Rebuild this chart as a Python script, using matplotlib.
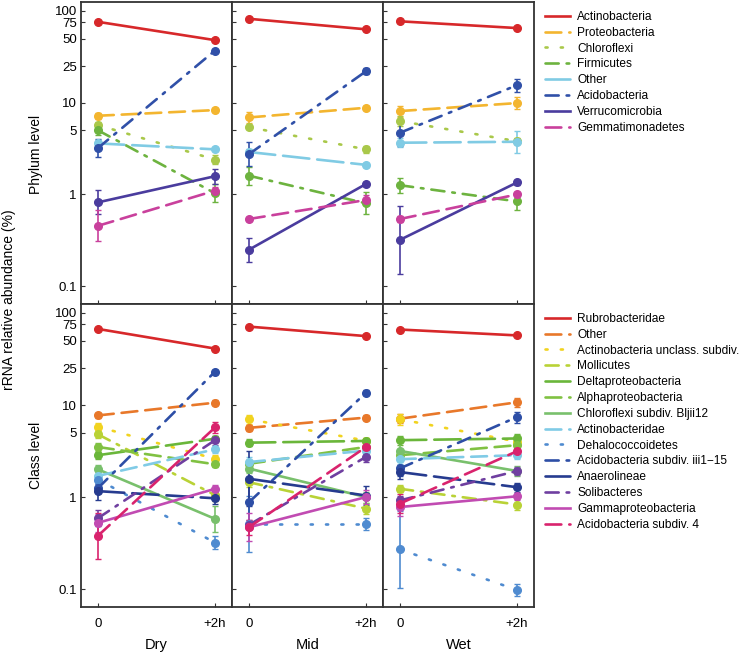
import numpy as np
import matplotlib
matplotlib.use('Agg')
import matplotlib.pyplot as plt
from matplotlib.ticker import FixedLocator, NullLocator
from matplotlib.lines import Line2D

plt.rcParams['font.family'] = ['Liberation Sans', 'DejaVu Sans']

conditions = ['Dry', 'Mid', 'Wet']
time_labels = ['0', '+2h']
ytick_vals = [0.1, 1, 5, 10, 25, 50, 75, 100]
ytick_labels = ['0.1', '1', '5', '10', '25', '50', '75', '100']

# columns: Dry 0, Dry +2h, Mid 0, Mid +2h, Wet 0, Wet +2h
phylum_names = ['Actinobacteria', 'Proteobacteria', 'Chloroflexi', 'Firmicutes',
                'Other', 'Acidobacteria', 'Verrucomicrobia', 'Gemmatimonadetes']
phylum_values = np.array([
    [76, 48, 82, 63, 77, 65],
    [7.2, 8.3, 6.9, 8.8, 8.1, 9.9],
    [5.7, 2.4, 5.4, 3.1, 6.3, 3.8],
    [5.0, 1.03, 1.6, 0.80, 1.26, 0.84],
    [3.6, 3.1, 2.9, 2.1, 3.66, 3.75],
    [3.2, 37, 2.75, 22, 4.7, 15.5],
    [0.82, 1.58, 0.25, 1.30, 0.32, 1.35],
    [0.455, 1.10, 0.54, 0.87, 0.54, 1.0],
])
# error bar half width, log10 units
phylum_err = np.array([
    [0.01, 0.01, 0.01, 0.01, 0.01, 0.01],
    [0.03, 0.02, 0.06, 0.02, 0.06, 0.07],
    [0.03, 0.05, 0.02, 0.04, 0.05, 0.03],
    [0.05, 0.10, 0.10, 0.12, 0.08, 0.09],
    [0.04, 0.02, 0.03, 0.02, 0.05, 0.12],
    [0.10, 0.02, 0.13, 0.03, 0.14, 0.07],
    [0.13, 0.08, 0.13, 0.02, 0.37, 0.03],
    [0.17, 0.04, 0.02, 0.05, 0.03, 0.03],
])

class_names = ['Rubrobacteridae', 'Other', 'Actinobacteria unclass. subdiv.', 'Mollicutes',
               'Deltaproteobacteria', 'Alphaproteobacteria', 'Chloroflexi subdiv. Bljii12',
               'Actinobacteridae', 'Dehalococcoidetes', 'Acidobacteria subdiv. iii1\u221215',
               'Anaerolineae', 'Solibacteres', 'Gammaproteobacteria', 'Acidobacteria subdiv. 4']
class_values = np.array([
    [67, 41, 71, 56, 66, 57],
    [7.7, 10.6, 5.65, 7.3, 7.1, 10.7],
    [5.8, 2.6, 7.0, 4.1, 7.0, 4.0],
    [4.8, 1.05, 1.45, 0.75, 1.23, 0.83],
    [2.85, 4.3, 3.9, 4.07, 4.15, 4.33],
    [3.5, 2.27, 2.3, 3.5, 2.85, 3.66],
    [2.0, 0.58, 2.04, 1.0, 3.17, 1.92],
    [1.7, 3.3, 2.4, 3.2, 2.58, 2.85],
    [1.55, 0.32, 0.51, 0.51, 0.27, 0.098],
    [1.25, 23, 0.88, 13.6, 2.05, 7.4],
    [1.16, 0.97, 1.58, 1.04, 1.87, 1.28],
    [0.59, 4.15, 0.5, 2.73, 0.92, 1.92],
    [0.525, 1.23, 0.47, 1.0, 0.78, 1.02],
    [0.38, 5.7, 0.47, 3.5, 0.85, 3.15],
])
class_err = np.array([
    [0.01, 0.01, 0.01, 0.01, 0.01, 0.01],
    [0.03, 0.03, 0.03, 0.03, 0.05, 0.05],
    [0.04, 0.04, 0.05, 0.03, 0.06, 0.03],
    [0.04, 0.06, 0.05, 0.06, 0.04, 0.06],
    [0.04, 0.03, 0.04, 0.03, 0.05, 0.05],
    [0.04, 0.03, 0.04, 0.03, 0.04, 0.04],
    [0.05, 0.14, 0.05, 0.06, 0.10, 0.05],
    [0.04, 0.04, 0.06, 0.03, 0.05, 0.04],
    [0.05, 0.07, 0.30, 0.06, 0.42, 0.07],
    [0.05, 0.02, 0.25, 0.03, 0.08, 0.06],
    [0.10, 0.06, 0.30, 0.10, 0.08, 0.05],
    [0.09, 0.05, 0.05, 0.05, 0.05, 0.04],
    [0.10, 0.04, 0.15, 0.08, 0.10, 0.04],
    [0.25, 0.06, 0.08, 0.05, 0.10, 0.04],
])

solid = '-'
dashed = (0, (6, 3))
longdash = (0, (10, 3))
dotted = (0, (0.8, 5))
dashdot = (0, (5, 3, 1, 3))

phylum_colors = ['#d7282a', '#f3b52f', '#a9c84a', '#6db33f', '#80cbe4', '#3050a8', '#4a3c9e', '#c9409c']
phylum_styles = [solid, dashed, dotted, dashdot, longdash, dashdot, solid, dashed]
class_colors = ['#d7282a', '#e8782a', '#f1d320', '#b9d236', '#6ab63a', '#80c142', '#79c06c',
                '#80cbe6', '#4f8bd0', '#2d4ea6', '#263b8f', '#6f3fa0', '#c14bb2', '#d9236d']
class_styles = [solid, dashed, dotted, dashdot, longdash, dashed, solid,
                dashed, dotted, dashdot, longdash, dashdot, solid, dashed]

W, H = 748, 652
fig = plt.figure(figsize=(W / 100, H / 100), dpi=100)

left, pw = 81, 151
rows = [(2, 304), (304, 607)]


def draw_panel(ax, values, errs, colors, styles, k):
    x = np.array([0, 1])
    for i in range(values.shape[0]):
        v = values[i, 2 * k:2 * k + 2]
        e = errs[i, 2 * k:2 * k + 2]
        lo = v - v * 10 ** (-e)
        hi = v * 10 ** e - v
        ax.errorbar(x, v, yerr=[lo, hi], fmt='none', ecolor=colors[i], elinewidth=1.2,
                    capsize=2.2, capthick=1.0, zorder=2 + i * 0.01)
        ax.plot(x, v, color=colors[i], linestyle=styles[i], lw=1.9,
                marker='o', markersize=5.5, dash_capstyle='round', zorder=3 + i * 0.01)


for r, (top, bot) in enumerate(rows):
    for k in range(3):
        ax = fig.add_axes([(left + k * pw) / W, 1 - bot / H, pw / W, (bot - top) / H])
        ax.set_yscale('log')
        ax.set_ylim(0.064, 125)
        ax.set_xlim(-0.145, 1.145)
        if r == 0:
            draw_panel(ax, phylum_values, phylum_err, phylum_colors, phylum_styles, k)
        else:
            draw_panel(ax, class_values, class_err, class_colors, class_styles, k)
        ax.yaxis.set_major_locator(FixedLocator(ytick_vals))
        ax.yaxis.set_minor_locator(NullLocator())
        ax.set_xticks([0, 1])
        ax.tick_params(direction='in', length=3, width=0.8, color='#333333',
                       labelsize=9.5, pad=3)
        if k == 0:
            ax.set_yticklabels(ytick_labels)
        else:
            ax.set_yticklabels([])
        if r == 1:
            ax.set_xticklabels(time_labels)
            ax.tick_params(axis='x', pad=8)
            ax.set_xlabel(conditions[k], fontsize=10.5, labelpad=6)
        else:
            ax.set_xticklabels([])
        for s in ax.spines.values():
            s.set_linewidth(1.3)
            s.set_color('#333333')


def make_handles(colors, styles):
    return [Line2D([], [], color=c, linestyle=s, lw=1.9, dash_capstyle='round')
            for c, s in zip(colors, styles)]


fig.legend(make_handles(phylum_colors, phylum_styles), phylum_names, loc='upper left',
           bbox_to_anchor=(545 / W, 1 - 11 / H), frameon=False, fontsize=8.6,
           handlelength=2.1, handletextpad=0.6, labelspacing=0.32,
           borderpad=0, borderaxespad=0)
fig.legend(make_handles(class_colors, class_styles), class_names, loc='upper left',
           bbox_to_anchor=(545 / W, 1 - 313 / H), frameon=False, fontsize=8.6,
           handlelength=2.1, handletextpad=0.6, labelspacing=0.32,
           borderpad=0, borderaxespad=0)

fig.text(9 / W, 1 - 300 / H, 'rRNA relative abundance (%)', rotation=90,
         ha='center', va='center', fontsize=10)
fig.text(36 / W, 1 - 154 / H, 'Phylum level', rotation=90, ha='center', va='center', fontsize=10)
fig.text(36 / W, 1 - 455 / H, 'Class level', rotation=90, ha='center', va='center', fontsize=10)

fig.savefig('out.png', dpi=100)
